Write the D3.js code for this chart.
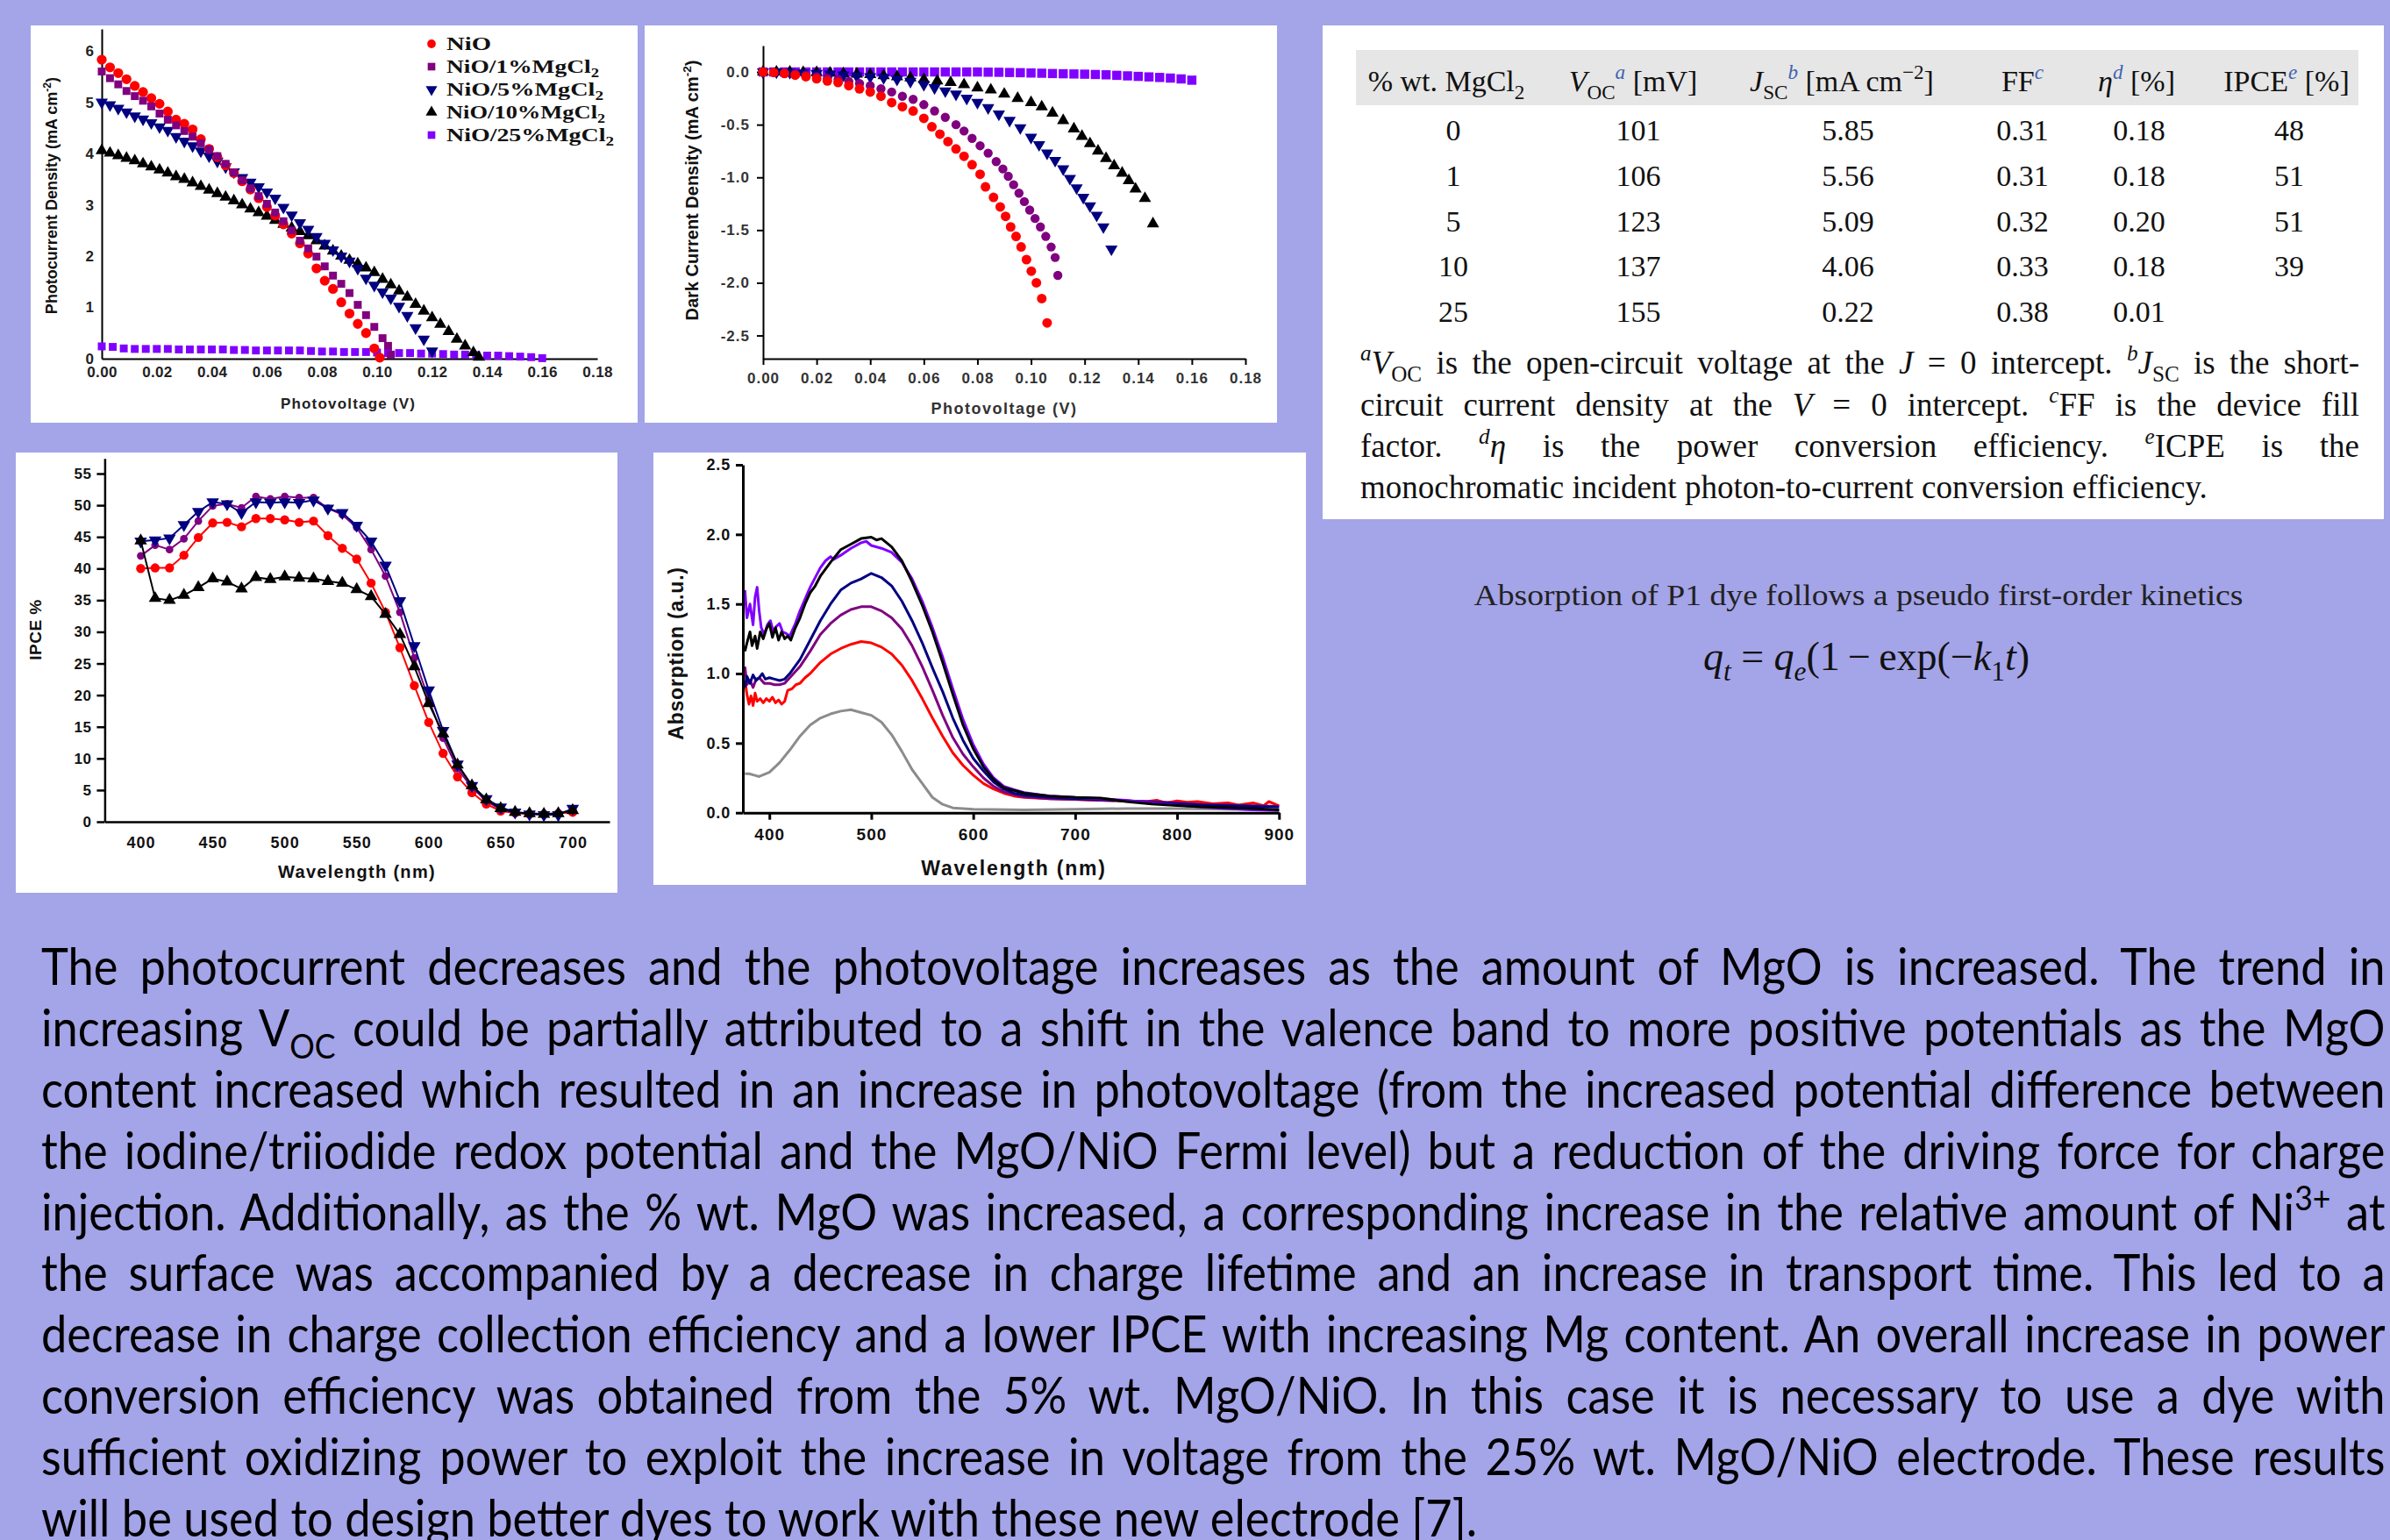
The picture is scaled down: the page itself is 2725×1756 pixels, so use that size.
<!DOCTYPE html>
<html>
<head>
<meta charset="utf-8">
<script src="https://cdn.jsdelivr.net/npm/d3@7"></script>
<style>
  body { margin: 0; background: #a4a4e8; }
  svg { display: block; }
</style>
</head>
<body>
<svg id="poster"></svg>
<script>
// ---------------- data ----------------
// J-V under illumination: [V, J] (mA cm-2)
const jvNiO = [[0,5.83],[.003,5.68],[.006,5.57],[.009,5.45],[.012,5.32],[.015,5.2],[.018,5.08],[.021,4.97],[.024,4.82],[.027,4.66],[.030,4.58],[.033,4.47],[.036,4.28],[.039,4.09],[.042,3.93],[.045,3.77],[.048,3.62],[.051,3.46],[.054,3.3],[.057,3.13],[.060,2.96],[.063,2.79],[.066,2.62],[.069,2.44],[.072,2.25],[.075,2.05],[.078,1.76],[.081,1.52],[.084,1.36],[.087,1.1],[.090,0.88],[.093,0.68],[.096,0.5],[.099,0.2],[.101,0.02]];
const jv1 = [[0,5.6],[.003,5.47],[.006,5.35],[.009,5.22],[.012,5.12],[.015,5.03],[.018,4.92],[.021,4.78],[.024,4.66],[.027,4.55],[.030,4.44],[.033,4.33],[.036,4.2],[.039,4.08],[.042,3.95],[.045,3.8],[.048,3.63],[.051,3.48],[.054,3.32],[.057,3.17],[.060,3.02],[.063,2.85],[.066,2.68],[.069,2.5],[.072,2.3],[.075,2.15],[.078,1.99],[.081,1.8],[.084,1.62],[.087,1.46],[.090,1.28],[.093,1.05],[.096,0.85],[.099,0.62],[.102,0.4],[.104,0.25],[.105,0.08]];
const jv5 = [[0,5.0],[.003,4.95],[.006,4.88],[.009,4.81],[.012,4.73],[.015,4.67],[.018,4.6],[.021,4.52],[.024,4.45],[.027,4.33],[.030,4.24],[.033,4.15],[.036,4.05],[.039,3.95],[.042,3.85],[.045,3.74],[.048,3.64],[.051,3.53],[.054,3.44],[.057,3.35],[.060,3.25],[.063,3.13],[.066,2.95],[.069,2.8],[.072,2.65],[.075,2.52],[.078,2.38],[.081,2.25],[.084,2.12],[.087,2.0],[.090,1.9],[.093,1.76],[.096,1.57],[.099,1.43],[.102,1.3],[.105,1.18],[.108,1.02],[.111,0.84],[.114,0.6],[.117,0.38],[.120,0.15]];
const jv10 = [[0,4.06],[.003,4.01],[.006,3.96],[.009,3.91],[.012,3.86],[.015,3.8],[.018,3.74],[.021,3.68],[.024,3.62],[.027,3.55],[.030,3.5],[.033,3.43],[.036,3.36],[.039,3.29],[.042,3.22],[.045,3.15],[.048,3.08],[.051,3.0],[.054,2.92],[.057,2.85],[.060,2.78],[.063,2.7],[.066,2.62],[.069,2.55],[.072,2.48],[.075,2.4],[.078,2.3],[.081,2.2],[.084,2.1],[.087,2.0],[.090,1.92],[.093,1.85],[.096,1.77],[.099,1.68],[.102,1.55],[.105,1.44],[.108,1.32],[.111,1.2],[.114,1.06],[.117,0.93],[.120,0.8],[.123,0.67],[.126,0.53],[.129,0.38],[.132,0.25],[.135,0.12],[.137,0.03]];
const jv25 = [[0,0.24],[.004,0.23],[.008,0.2],[.012,0.19],[.016,0.19],[.020,0.19],[.024,0.19],[.028,0.18],[.032,0.18],[.036,0.18],[.040,0.18],[.044,0.18],[.048,0.17],[.052,0.17],[.056,0.16],[.060,0.16],[.064,0.16],[.068,0.16],[.072,0.16],[.076,0.15],[.080,0.14],[.084,0.14],[.088,0.13],[.092,0.13],[.096,0.13],[.100,0.12],[.104,0.11],[.108,0.11],[.112,0.11],[.116,0.1],[.120,0.1],[.124,0.09],[.128,0.08],[.132,0.08],[.136,0.07],[.140,0.06],[.144,0.06],[.148,0.05],[.152,0.04],[.156,0.03],[.160,0.01]];

// dark current: [V, J]
const dkNiO = [[0,0],[.004,-.005],[.008,-.015],[.012,-.03],[.016,-.045],[.020,-.065],[.024,-.085],[.028,-.1],[.032,-.13],[.036,-.16],[.040,-.19],[.044,-.23],[.048,-.29],[.052,-.33],[.056,-.37],[.060,-.44],[.063,-.52],[.066,-.59],[.069,-.66],[.072,-.73],[.075,-.8],[.078,-.88],[.081,-.97],[.083,-1.09],[.086,-1.19],[.0885,-1.28],[.0905,-1.37],[.0924,-1.47],[.0944,-1.56],[.0963,-1.66],[.0983,-1.78],[.1001,-1.89],[.102,-2.0],[.104,-2.15],[.106,-2.38]];
const dk1 = [[0,0],[.004,-.005],[.008,-.01],[.012,-.02],[.016,-.03],[.020,-.045],[.024,-.06],[.028,-.07],[.032,-.09],[.036,-.11],[.040,-.13],[.044,-.16],[.048,-.19],[.052,-.23],[.056,-.26],[.060,-.31],[.064,-.37],[.068,-.43],[.072,-.5],[.075,-.56],[.078,-.63],[.081,-.7],[.084,-.77],[.087,-.85],[.0895,-.92],[.0915,-.99],[.0935,-1.07],[.0955,-1.15],[.0975,-1.23],[.0995,-1.31],[.1015,-1.39],[.1035,-1.47],[.1055,-1.56],[.1075,-1.66],[.109,-1.76],[.110,-1.93]];
const dk5 = [[0,0],[.005,0],[.010,-.005],[.015,-.01],[.020,-.015],[.025,-.02],[.030,-.03],[.035,-.04],[.040,-.045],[.045,-.055],[.050,-.07],[.055,-.09],[.060,-.12],[.064,-.15],[.068,-.18],[.072,-.21],[.076,-.25],[.080,-.29],[.084,-.34],[.088,-.4],[.092,-.46],[.096,-.53],[.100,-.62],[.103,-.69],[.106,-.77],[.109,-.84],[.112,-.92],[.1145,-1.01],[.117,-1.1],[.1195,-1.19],[.122,-1.27],[.1245,-1.36],[.127,-1.47],[.130,-1.68]];
const dk10 = [[0,0],[.005,0],[.010,0],[.015,-.005],[.020,-.005],[.025,-.01],[.030,-.015],[.035,-.02],[.040,-.025],[.045,-.035],[.050,-.045],[.055,-.055],[.060,-.07],[.065,-.085],[.070,-.1],[.075,-.12],[.080,-.15],[.085,-.17],[.090,-.21],[.095,-.25],[.100,-.29],[.104,-.33],[.108,-.39],[.112,-.46],[.116,-.54],[.119,-.61],[.122,-.68],[.125,-.75],[.128,-.82],[.131,-.89],[.134,-.96],[.1365,-1.03],[.139,-1.11],[.1425,-1.2],[.1455,-1.44]];
const dk25 = [[0,0],[.004,0],[.008,0],[.012,0],[.016,0],[.020,0],[.024,0],[.028,0],[.032,0],[.036,0],[.040,0],[.044,0],[.048,0],[.052,0],[.056,0],[.060,0],[.064,0],[.068,0],[.072,0],[.076,0],[.080,0],[.084,-.002],[.088,-.003],[.092,-.005],[.096,-.007],[.100,-.01],[.104,-.012],[.108,-.015],[.112,-.017],[.116,-.019],[.120,-.021],[.124,-.024],[.128,-.027],[.132,-.032],[.136,-.037],[.140,-.042],[.144,-.047],[.148,-.052],[.152,-.058],[.156,-.066],[.160,-.078]];

// IPCE (%) vs wavelength
const ipceWl = [400,410,420,430,440,450,460,470,480,490,500,510,520,530,540,550,560,570,580,590,600,610,620,630,640,650,660,670,680,690,700];
const ipceNiO = [40.0,40.1,40.1,42.1,44.9,47.2,47.3,46.6,47.9,47.9,47.7,47.3,47.5,45.2,43.2,41.5,37.7,33.1,27.5,21.5,15.7,10.8,7.1,4.6,2.8,1.7,1.4,1.2,1.2,1.3,1.5];
const ipce1 = [42.0,43.7,43.0,44.7,47.5,49.9,50.2,49.6,51.4,51.0,51.4,51.2,51.2,49.5,48.5,46.5,43.0,38.8,33.1,25.9,19.4,13.2,8.4,5.4,3.3,1.9,1.5,1.3,1.2,1.3,1.9];
const ipce5 = [44.3,44.5,44.8,46.9,49.0,50.5,50.2,48.8,50.5,50.4,50.5,50.4,50.8,49.5,48.8,46.8,44.3,40.5,34.9,27.8,20.8,14.4,9.1,5.7,3.6,2.3,1.5,1.2,1.1,1.1,2.1];
const ipce10 = [44.4,35.3,35.0,35.8,37.0,38.4,37.9,36.8,38.6,38.3,38.7,38.5,38.4,38.0,37.7,36.7,35.6,32.8,29.6,24.5,18.7,13.9,9.0,5.7,3.5,2.1,1.5,1.3,1.2,1.3,1.8];

// absorption spectra: [nm, a.u.]
const absGrey = [[376,0.28],[380,0.28],[385,0.27],[390,0.26],[400,0.29],[410,0.36],[420,0.45],[430,0.55],[440,0.63],[450,0.68],[460,0.71],[470,0.73],[480,0.74],[490,0.72],[500,0.70],[510,0.65],[520,0.56],[530,0.44],[540,0.31],[550,0.21],[560,0.11],[570,0.06],[580,0.035],[600,0.025],[650,0.02],[700,0.025],[750,0.03],[800,0.03],[850,0.025],[900,0.02]];
const absNiO = [[376,0.95],[378,0.85],[380,0.78],[382,0.84],[384,0.77],[386,0.86],[388,0.80],[391,0.82],[394,0.79],[397,0.82],[400,0.80],[403,0.83],[406,0.79],[409,0.81],[412,0.78],[415,0.80],[418,0.88],[422,0.89],[426,0.92],[430,0.93],[435,0.97],[440,1.0],[450,1.08],[460,1.14],[470,1.18],[480,1.21],[490,1.23],[500,1.22],[510,1.19],[520,1.14],[530,1.06],[540,0.95],[550,0.82],[560,0.68],[570,0.55],[580,0.43],[590,0.34],[600,0.27],[610,0.21],[620,0.17],[630,0.14],[640,0.12],[650,0.11],[675,0.10],[700,0.095],[725,0.09],[750,0.085],[770,0.08],[780,0.09],[790,0.07],[800,0.085],[810,0.075],[820,0.08],[835,0.065],[850,0.07],[860,0.055],[875,0.07],[885,0.05],[890,0.08],[900,0.05]];
const abs1 = [[376,1.05],[378,0.92],[381,0.95],[384,0.90],[387,0.96],[390,0.97],[395,0.93],[400,0.93],[405,0.92],[410,0.92],[415,0.93],[420,0.97],[430,1.05],[440,1.16],[450,1.28],[460,1.36],[470,1.42],[480,1.46],[490,1.48],[500,1.48],[510,1.45],[520,1.40],[530,1.32],[540,1.20],[550,1.05],[560,0.88],[570,0.70],[580,0.54],[590,0.42],[600,0.33],[610,0.25],[620,0.19],[630,0.15],[640,0.13],[650,0.115],[675,0.10],[700,0.095],[725,0.09],[750,0.085],[775,0.08],[800,0.07],[825,0.06],[850,0.055],[875,0.05],[900,0.045]];
const abs5 = [[376,0.90],[378,0.98],[381,0.93],[384,0.99],[387,0.95],[390,0.97],[393,1.0],[396,0.96],[400,0.97],[405,0.96],[410,0.95],[415,0.96],[420,1.0],[430,1.10],[440,1.24],[450,1.38],[460,1.50],[470,1.60],[480,1.65],[490,1.68],[500,1.72],[510,1.69],[520,1.63],[530,1.52],[540,1.38],[550,1.22],[560,1.04],[570,0.87],[580,0.68],[590,0.52],[600,0.39],[610,0.30],[620,0.22],[630,0.17],[640,0.14],[650,0.125],[675,0.11],[700,0.10],[725,0.095],[750,0.085],[775,0.075],[800,0.065],[825,0.055],[850,0.05],[875,0.045],[900,0.04]];
const abs25 = [[376,1.60],[378,1.40],[381,1.50],[384,1.35],[386,1.55],[388,1.62],[390,1.45],[392,1.33],[395,1.28],[398,1.35],[401,1.38],[404,1.30],[407,1.34],[410,1.36],[413,1.30],[416,1.29],[420,1.27],[425,1.35],[430,1.45],[440,1.62],[450,1.76],[455,1.81],[460,1.84],[463,1.82],[470,1.85],[480,1.90],[490,1.94],[495,1.95],[500,1.92],[510,1.90],[520,1.87],[530,1.80],[540,1.68],[550,1.52],[560,1.33],[570,1.12],[580,0.89],[590,0.67],[600,0.49],[610,0.35],[620,0.25],[630,0.19],[640,0.165],[650,0.145],[675,0.12],[700,0.11],[725,0.10],[750,0.09],[775,0.07],[800,0.055],[825,0.04],[850,0.03],[875,0.02],[900,0.015]];
const abs10 = [[376,1.16],[378,1.22],[381,1.30],[383,1.20],[386,1.27],[388,1.18],[391,1.30],[394,1.25],[397,1.32],[400,1.36],[403,1.26],[406,1.33],[409,1.24],[412,1.30],[415,1.25],[418,1.27],[421,1.24],[425,1.32],[430,1.40],[435,1.50],[440,1.58],[445,1.63],[450,1.70],[460,1.80],[470,1.89],[480,1.93],[490,1.97],[500,1.98],[505,1.96],[510,1.97],[520,1.91],[530,1.81],[540,1.66],[550,1.49],[560,1.30],[570,1.08],[580,0.85],[590,0.63],[600,0.46],[610,0.33],[620,0.24],[630,0.18],[640,0.16],[650,0.14],[675,0.12],[700,0.11],[725,0.105],[750,0.08],[775,0.063],[800,0.052],[825,0.042],[850,0.036],[875,0.03],[900,0.02]];

// tick values
const jvTicksX = [0,0.02,0.04,0.06,0.08,0.10,0.12,0.14,0.16,0.18];
const jvTicksY = [0,1,2,3,4,5,6];
const dkTicksY = [0,-0.5,-1.0,-1.5,-2.0,-2.5];
const ipceTicksX = [400,450,500,550,600,650,700];
const ipceTicksY = [0,5,10,15,20,25,30,35,40,45,50,55];
const absTicksX = [400,500,600,700,800,900];
const absTicksY = [0,0.5,1.0,1.5,2.0,2.5];

// legend
const legendNames = ["NiO", "NiO/1%MgCl", "NiO/5%MgCl", "NiO/10%MgCl", "NiO/25%MgCl"];

// table
const tabMg = ["0", "1", "5", "10", "25"];
const tabVoc = ["101", "106", "123", "137", "155"];
const tabJsc = ["5.85", "5.56", "5.09", "4.06", "0.22"];
const tabFF = ["0.31", "0.31", "0.32", "0.33", "0.38"];
const tabEta = ["0.18", "0.18", "0.20", "0.18", "0.01"];
const tabIpce = ["48", "51", "51", "39", ""];

// text blocks
const kineticsText = "Absorption of P1 dye follows a pseudo first-order kinetics";
const paraLines = [
  ["The photocurrent decreases and the photovoltage increases as the amount of MgO is increased. The trend in"],
  ["increasing V", {t: "OC", sub: 1}, " could be partially attributed to a shift in the valence band to more positive potentials as the MgO"],
  ["content increased which resulted in an increase in photovoltage (from the increased potential difference between"],
  ["the iodine/triiodide redox potential and the MgO/NiO Fermi level) but a reduction of the driving force for charge"],
  ["injection. Additionally, as the % wt. MgO was increased, a corresponding increase in the relative amount of Ni", {t: "3+", sup: 1}, " at"],
  ["the surface was accompanied by a decrease in charge lifetime and an increase in transport time. This led to a"],
  ["decrease in charge collection efficiency and a lower IPCE with increasing Mg content. An overall increase in power"],
  ["conversion efficiency was obtained from the 5% wt. MgO/NiO. In this case it is necessary to use a dye with"],
  ["sufficient oxidizing power to exploit the increase in voltage from the 25% wt. MgO/NiO electrode. These results"],
  ["will be used to design better dyes to work with these new electrode [7]."]
];
const noteLines = [
  [{t: "a", sup: 1, it: 1}, {t: "V", it: 1}, {t: "OC", sub: 1}, " is the open-circuit voltage at the ", {t: "J", it: 1}, " = 0 intercept. ", {t: "b", sup: 1, it: 1}, {t: "J", it: 1}, {t: "SC", sub: 1}, " is the short-"],
  ["circuit current density at the ", {t: "V", it: 1}, " = 0 intercept. ", {t: "c", sup: 1, it: 1}, "FF is the device fill"],
  ["factor. ", {t: "d", sup: 1, it: 1}, {t: "\u03B7", it: 1}, " is the power conversion efficiency. ", {t: "e", sup: 1, it: 1}, "ICPE is the"],
  ["monochromatic incident photon-to-current conversion efficiency."]
];

// ---------------- drawing ----------------
const W = 2725, H = 1756;
const SANS = "'Liberation Sans', Arial, sans-serif";
const SERIF = "'Liberation Serif', 'Times New Roman', serif";
const RED = "#ff0000", PURPLE = "#800080", NAVY = "#000080", BLACK = "#000000", VIOLET = "#8000ff", GREY = "#8c8c8c";
const BLUE = "#3d62b0";

const svg = d3.select("#poster").attr("width", W).attr("height", H);
svg.append("rect").attr("width", W).attr("height", H).attr("fill", "#a4a4e8");

// white panels
[[35, 29, 692, 453], [735, 29, 721, 453], [1508, 29, 1210, 563], [18, 516, 686, 502], [745, 516, 744, 493]]
  .forEach(p => svg.append("rect").attr("x", p[0]).attr("y", p[1]).attr("width", p[2]).attr("height", p[3]).attr("fill", "#fff"));

// rich text: strings or {t, sub, sup, it, fill}
function rich(text, parts, fs) {
  let off = 0;
  parts.forEach(p => {
    if (typeof p === "string") p = {t: p};
    const want = p.sub ? fs * 0.25 : p.sup ? -fs * 0.4 : 0;
    const ts = text.append("tspan").text(p.t).attr("dy", want - off);
    off = want;
    if (p.sub || p.sup) ts.attr("font-size", fs * 0.68);
    if (p.it) ts.attr("font-style", "italic");
    if (p.fill) ts.attr("fill", p.fill);
  });
  return text;
}

function styleAxis(g, fs, sw, color, spacing) {
  g.attr("font-size", fs).attr("font-family", SANS).attr("font-weight", "bold");
  g.selectAll("text").attr("fill", color).style("letter-spacing", spacing + "px");
  g.selectAll(".domain, .tick line").attr("stroke", "#000").attr("stroke-width", sw);
}

const sym = {
  circle: {type: d3.symbolCircle, rot: 0},
  square: {type: d3.symbolSquare, rot: 0},
  up: {type: d3.symbolTriangle, rot: 0},
  down: {type: d3.symbolTriangle, rot: 180}
};

function markers(g, data, x, y, shape, size, color) {
  g.append("g").selectAll("path").data(data).join("path")
    .attr("d", d3.symbol().type(shape.type).size(size))
    .attr("transform", d => `translate(${x(d[0])},${y(d[1])}) rotate(${shape.rot})`)
    .attr("fill", color);
}

function title(g, x, y, txt, fs, rot, color, spacing) {
  const t = g.append("text").attr("transform", `translate(${x},${y}) rotate(${rot})`)
    .attr("text-anchor", "middle").attr("font-family", SANS).attr("font-weight", "bold")
    .attr("font-size", fs).attr("fill", color).style("letter-spacing", (spacing || 0) + "px");
  rich(t, txt, fs);
  return t;
}

// ---- chart 1: photocurrent ----
const c1 = svg.append("g");
const x1 = d3.scaleLinear().domain([0, 0.18]).range([116, 681]);
const y1 = d3.scaleLinear().domain([0, 6.43]).range([409, 33]);
c1.append("g").attr("transform", "translate(0,409)")
  .call(d3.axisBottom(x1).tickValues(jvTicksX).tickFormat(d => d.toFixed(2)).tickSize(0).tickPadding(9))
  .call(g => styleAxis(g, 17, 2, "#222", 0.3));
c1.append("g").attr("transform", "translate(116,0)")
  .call(d3.axisLeft(y1).tickValues(jvTicksY).tickFormat(d3.format("d")).tickSize(0).tickPadding(9))
  .call(g => styleAxis(g, 17, 2, "#222", 0));
markers(c1, jv25, x1, y1, sym.square, 80, VIOLET);
markers(c1, jv10, x1, y1, sym.up, 85, BLACK);
markers(c1, jv5, x1, y1, sym.down, 85, NAVY);
markers(c1, jvNiO, x1, y1, sym.circle, 100, RED);
markers(c1, jv1, x1, y1, sym.square, 80, PURPLE);
title(c1, 397, 466, ["Photovoltage (V)"], 17, 0, "#222", 1.2);
title(c1, 65, 223, ["Photocurrent Density (mA cm", {t: "-2", sup: 1}, ")"], 18, -90, "#111");

// legend
const legendShapes = [sym.circle, sym.square, sym.down, sym.up, sym.square];
const legendColors = [RED, PURPLE, NAVY, BLACK, VIOLET];
const legendW = [51, 174, 179, 181, 191];
const ly = d3.scalePoint().domain(d3.range(legendNames.length)).range([50, 154]);
legendNames.forEach((name, i) => {
  c1.append("path").attr("d", d3.symbol().type(legendShapes[i].type).size(75))
    .attr("transform", `translate(492,${ly(i)}) rotate(${legendShapes[i].rot})`).attr("fill", legendColors[i]);
  const t = c1.append("text").attr("x", 509).attr("y", ly(i) + 7).attr("font-family", SERIF)
    .attr("font-weight", "bold").attr("font-size", 20).attr("fill", "#111")
    .attr("textLength", legendW[i]).attr("lengthAdjust", "spacingAndGlyphs");
  rich(t, i === 0 ? [name] : [name, {t: "2", sub: 1}], 20);
});

// ---- chart 2: dark current ----
const c2 = svg.append("g");
const x2 = d3.scaleLinear().domain([0, 0.18]).range([870, 1420]);
const y2 = d3.scaleLinear().domain([-2.72, 0.25]).range([409, 52]);
c2.append("g").attr("transform", "translate(0,409)")
  .call(d3.axisBottom(x2).tickValues(jvTicksX).tickFormat(d => d.toFixed(2)).tickSize(7).tickSizeOuter(0).tickPadding(9))
  .call(g => styleAxis(g, 17, 2, "#333", 1));
c2.append("g").attr("transform", "translate(870,0)")
  .call(d3.axisLeft(y2).tickValues(dkTicksY).tickFormat(d => d.toFixed(1)).tickSize(7).tickSizeOuter(0).tickPadding(8))
  .call(g => styleAxis(g, 17, 2, "#333", 1));
markers(c2, dk25, x2, y2, sym.square, 110, VIOLET);
markers(c2, dk10, x2, y2, sym.up, 85, BLACK);
markers(c2, dk5, x2, y2, sym.down, 85, NAVY);
markers(c2, dk1, x2, y2, sym.circle, 85, PURPLE);
markers(c2, dkNiO, x2, y2, sym.circle, 95, RED);
title(c2, 1145, 472, ["Photovoltage (V)"], 18, 0, "#333", 1.5);
title(c2, 796, 217, ["Dark Current Density (mA cm", {t: "-2", sup: 1}, ")"], 20, -90, "#111");

// ---- chart 3: IPCE ----
const c3 = svg.append("g");
const x3 = d3.scaleLinear().domain([375, 725.6]).range([119.4, 695]);
const y3 = d3.scaleLinear().domain([0, 57.4]).range([937, 522.7]);
c3.append("g").attr("transform", "translate(0,937)")
  .call(d3.axisBottom(x3).tickValues(ipceTicksX).tickSize(0).tickPadding(17))
  .call(g => styleAxis(g, 18, 2.5, "#111", 1));
c3.append("g").attr("transform", "translate(119.4,0)")
  .call(d3.axisLeft(y3).tickValues(ipceTicksY).tickSize(9).tickSizeOuter(0).tickPadding(6))
  .call(g => styleAxis(g, 17, 2.5, "#111", 0.5));
const ipceSeries = [[ipceNiO, RED, sym.circle, 85], [ipce1, PURPLE, sym.circle, 60], [ipce5, NAVY, sym.down, 90], [ipce10, BLACK, sym.up, 90]];
const line3 = d3.line().x(d => x3(d[0])).y(d => y3(d[1]));
ipceSeries.forEach(([vals, color, shape, size]) => {
  const pts = d3.zip(ipceWl, vals);
  c3.append("path").attr("d", line3(pts)).attr("fill", "none").attr("stroke", color).attr("stroke-width", 2);
  markers(c3, pts, x3, y3, shape, size, color);
});
title(c3, 407, 1001, ["Wavelength (nm)"], 20, 0, "#111", 1.3);
title(c3, 47, 718, ["IPCE %"], 19, -90, "#111", 0.5);

// ---- chart 4: absorption ----
const c4 = svg.append("g");
const x4 = d3.scaleLinear().domain([374, 900]).range([847, 1458.3]);
const y4 = d3.scaleLinear().domain([0, 2.5]).range([926.7, 530]);
const line4 = d3.line().x(d => x4(d[0])).y(d => y4(d[1]));
[[absGrey, GREY], [absNiO, RED], [abs1, PURPLE], [abs5, NAVY], [abs25, VIOLET], [abs10, BLACK]].forEach(([pts, color]) => {
  c4.append("path").attr("d", line4(pts)).attr("fill", "none").attr("stroke", color)
    .attr("stroke-width", 3).attr("stroke-linejoin", "round");
});
c4.append("g").attr("transform", "translate(0,926.7)")
  .call(d3.axisBottom(x4).tickValues(absTicksX).tickSize(8).tickSizeOuter(0).tickPadding(10))
  .call(g => styleAxis(g, 19, 3, "#111", 1));
c4.append("g").attr("transform", "translate(847,0)")
  .call(d3.axisLeft(y4).tickValues(absTicksY).tickFormat(d => d.toFixed(1)).tickSize(8).tickSizeOuter(0).tickPadding(6))
  .call(g => styleAxis(g, 18, 3, "#111", 0.8));
title(c4, 1156, 998, ["Wavelength (nm)"], 23, 0, "#111", 1.8);
title(c4, 779, 745, ["Absorption (a.u.)"], 23, -90, "#111", 0.8);

// ---- table ----
const tb = svg.append("g").attr("font-family", SERIF).attr("fill", "#111");
tb.append("rect").attr("x", 1546).attr("y", 57).attr("width", 1143).attr("height", 63).attr("fill", "#e6e6e6");
const headParts = [
  ["% wt. MgCl", {t: "2", sub: 1}],
  [{t: "V", it: 1}, {t: "OC", sub: 1}, {t: "a", sup: 1, it: 1, fill: BLUE}, " [mV]"],
  [{t: "J", it: 1}, {t: "SC", sub: 1}, {t: "b", sup: 1, it: 1, fill: BLUE}, " [mA cm", {t: "\u22122", sup: 1}, "]"],
  ["FF", {t: "c", sup: 1, it: 1, fill: BLUE}],
  [{t: "\u03B7", it: 1}, {t: "d", sup: 1, it: 1, fill: BLUE}, " [%]"],
  ["IPCE", {t: "e", sup: 1, it: 1, fill: BLUE}, " [%]"]
];
const headX = [1649, 1862, 2100, 2306, 2436, 2607];
headParts.forEach((parts, i) => {
  const t = tb.append("text").attr("x", headX[i]).attr("y", 104).attr("text-anchor", "middle").attr("font-size", 34);
  rich(t, parts, 34);
});
const colX = [1657, 1868, 2107, 2306, 2439, 2610];
const rowY = d3.scaleLinear().domain([0, 4]).range([160, 367]);
const columns = [tabMg, tabVoc, tabJsc, tabFF, tabEta, tabIpce];
columns.forEach((col, ci) => {
  tb.append("g").selectAll("text").data(col).join("text")
    .attr("x", colX[ci]).attr("y", (d, ri) => rowY(ri))
    .attr("text-anchor", "middle").attr("font-size", 34).text(d => d);
});

// justified block of lines (last line left aligned), condensed uniformly so the longest line fits
function justified(lines, o) {
  const g = svg.append("g").attr("font-family", o.family).attr("font-size", o.fs).attr("fill", o.fill);
  const texts = lines.map((parts, i) => rich(g.append("text").attr("x", 0).attr("y", o.baselines[i]), parts, o.fs));
  const widths = texts.map(t => t.node().getComputedTextLength());
  const maxW = d3.max(widths.slice(0, -1));
  const sx = Math.min(1, o.fit * o.width / maxW);
  g.attr("transform", `translate(${o.x},0) scale(${sx},1)`);
  texts.slice(0, -1).forEach((t, i) => {
    const spaces = t.text().split(" ").length - 1;
    t.style("word-spacing", ((o.width / sx - widths[i]) / spaces) + "px");
  });
}

justified(noteLines, {family: SERIF, fs: 37, fill: "#111", x: 1551, width: 1139, fit: 0.985,
  baselines: [426, 474, 521, 568]});

// kinetics note
svg.append("text").attr("x", 2119).attr("y", 690).attr("text-anchor", "middle")
  .attr("font-family", SERIF).attr("font-size", 33).attr("fill", "#222")
  .attr("textLength", 877).attr("lengthAdjust", "spacingAndGlyphs").text(kineticsText);
const eq = svg.append("text").attr("x", 2128).attr("y", 764).attr("text-anchor", "middle")
  .attr("font-family", SERIF).attr("font-size", 46).attr("fill", "#111");
rich(eq, [{t: "q", it: 1}, {t: "t", sub: 1, it: 1}, " = ", {t: "q", it: 1}, {t: "e", sub: 1, it: 1},
  "(1\u2009\u2212\u2009exp(\u2212", {t: "k", it: 1}, {t: "1", sub: 1}, {t: "t", it: 1}, ")"], 46);

// paragraph
justified(paraLines, {family: "Lato, 'Noto Sans', sans-serif", fs: 58, fill: "#000", x: 47, width: 2673, fit: 0.975,
  baselines: [1123, 1193, 1263, 1333, 1403, 1472, 1542, 1612, 1682, 1752]});
</script>
</body>
</html>
